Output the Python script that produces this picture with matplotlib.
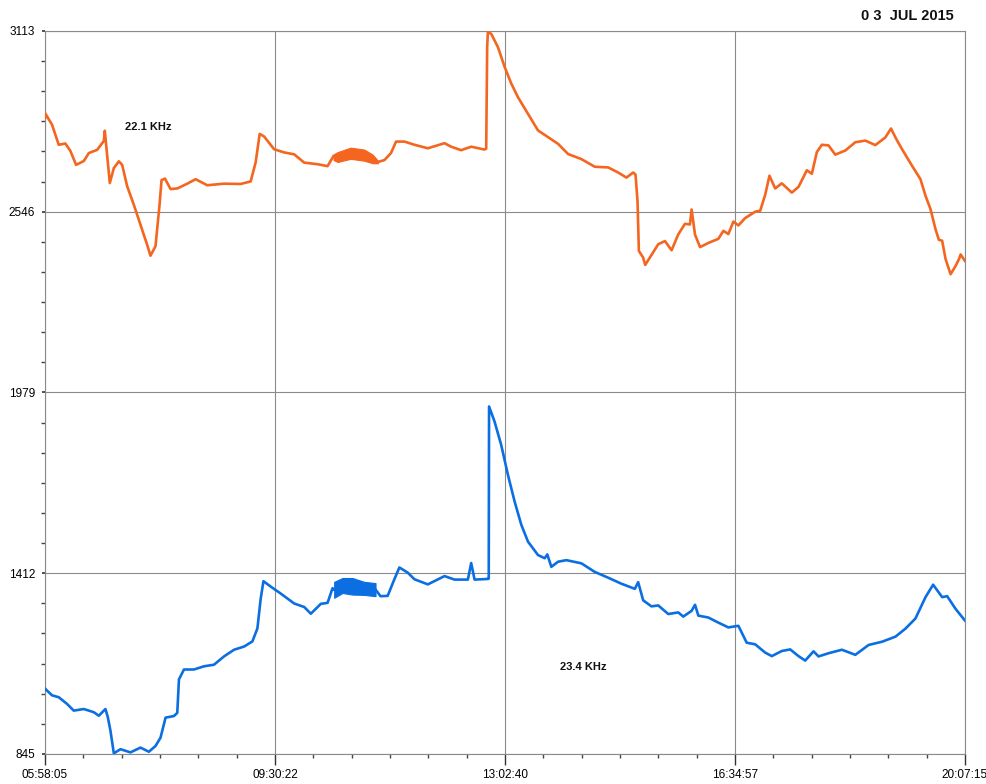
import matplotlib
matplotlib.use("Agg")
import matplotlib.pyplot as plt
from matplotlib.ticker import FixedLocator

# ---------------- data (clock time in decimal hours, recorder units) -------------
x_tick_pos = [5.9681, 9.5061, 13.0444, 16.5825, 20.1208]
x_tick_labels = ["05:58:05", "09:30:22", "13:02:40", "16:34:57", "20:07:15"]
y_ticks = [845, 1412, 1979, 2546, 3113]

orange_t = [5.968, 5.973, 6.076, 6.179, 6.281, 6.358, 6.446, 6.565, 6.642, 6.770,
            6.873, 6.888, 6.965, 7.027, 7.104, 7.155, 7.232, 7.336, 7.437, 7.540,
            7.591, 7.668, 7.730, 7.761, 7.813, 7.900, 8.003, 8.157, 8.285, 8.465,
            8.722, 8.978, 9.132, 9.209, 9.271, 9.339, 9.493, 9.648, 9.802, 9.956,
            10.161, 10.315, 10.408, 10.470, 10.670, 10.880, 11.010, 11.090, 11.190, 11.291,
            11.369, 11.498, 11.652, 11.858, 12.115, 12.216, 12.370, 12.525, 12.731, 12.756,
            12.771, 12.782, 12.833, 12.937, 13.040, 13.142, 13.245, 13.399, 13.553, 13.707,
            13.861, 14.016, 14.221, 14.427, 14.632, 14.786, 14.914, 15.017, 15.053, 15.084,
            15.105, 15.171, 15.202, 15.403, 15.506, 15.608, 15.711, 15.814, 15.891, 15.916,
            15.969, 16.046, 16.174, 16.328, 16.405, 16.482, 16.559, 16.636, 16.740, 16.894,
            16.971, 17.048, 17.114, 17.202, 17.304, 17.458, 17.561, 17.689, 17.766, 17.843,
            17.920, 18.023, 18.127, 18.281, 18.435, 18.589, 18.743, 18.897, 18.984, 19.052,
            19.154, 19.308, 19.437, 19.515, 19.592, 19.669, 19.720, 19.771, 19.824, 19.901,
            19.978, 20.029, 20.055, 20.120]
orange_v = [2840, 2854, 2819, 2756, 2760, 2737, 2693, 2705, 2730, 2740,
            2768, 2800, 2636, 2683, 2704, 2693, 2626, 2567, 2505, 2442,
            2408, 2438, 2567, 2645, 2650, 2617, 2619, 2634, 2648, 2629,
            2634, 2633, 2641, 2701, 2790, 2782, 2742, 2732, 2726, 2700,
            2695, 2689, 2721, 2719, 2731, 2726, 2712, 2702, 2708, 2730,
            2766, 2766, 2756, 2745, 2761, 2750, 2739, 2750, 2741, 2744,
            3063, 3110, 3104, 3062, 3000, 2948, 2905, 2853, 2801, 2780,
            2759, 2727, 2711, 2687, 2685, 2669, 2653, 2669, 2663, 2580,
            2423, 2402, 2379, 2444, 2454, 2425, 2475, 2508, 2506, 2553,
            2474, 2435, 2448, 2461, 2486, 2476, 2515, 2503, 2526, 2546,
            2549, 2599, 2659, 2619, 2635, 2606, 2624, 2676, 2665, 2733,
            2756, 2754, 2725, 2738, 2764, 2769, 2755, 2779, 2807, 2779,
            2742, 2690, 2648, 2596, 2554, 2491, 2458, 2455, 2397, 2350,
            2376, 2397, 2412, 2392]

# noisy band of the 22.1 kHz trace
orange_band_t = [10.408, 10.470, 10.670, 10.880, 11.010, 11.090]
orange_band_lo = [2708, 2702, 2712, 2706, 2698, 2698]
orange_band_hi = [2726, 2733, 2747, 2741, 2725, 2706]

blue_t = [5.968, 5.973, 6.076, 6.179, 6.307, 6.410, 6.565, 6.719, 6.796, 6.898,
          6.935, 6.975, 7.027, 7.129, 7.283, 7.437, 7.566, 7.668, 7.745, 7.823,
          7.952, 8.003, 8.029, 8.106, 8.260, 8.414, 8.568, 8.722, 8.877, 9.031,
          9.159, 9.236, 9.287, 9.329, 9.441, 9.596, 9.802, 9.956, 10.058, 10.212,
          10.315, 10.392, 10.417, 10.545, 10.699, 10.879, 11.053, 11.130, 11.240, 11.343,
          11.420, 11.548, 11.652, 11.858, 12.115, 12.269, 12.474, 12.525, 12.577, 12.782,
          12.795, 12.800, 12.884, 12.986, 13.091, 13.193, 13.296, 13.399, 13.553, 13.656,
          13.696, 13.758, 13.861, 13.989, 14.221, 14.427, 14.632, 14.837, 15.043, 15.094,
          15.171, 15.299, 15.403, 15.557, 15.711, 15.788, 15.916, 15.969, 16.020, 16.174,
          16.328, 16.482, 16.636, 16.764, 16.894, 17.048, 17.150, 17.304, 17.433, 17.561,
          17.664, 17.792, 17.869, 18.023, 18.229, 18.435, 18.640, 18.845, 19.052, 19.206,
          19.360, 19.515, 19.632, 19.771, 19.848, 19.978, 20.120]
blue_v = [1050, 1049, 1029, 1023, 1002, 981, 986, 976, 965, 986,
          960, 918, 847, 860, 850, 865, 852, 870, 896, 959,
          964, 974, 1079, 1110, 1110, 1120, 1125, 1151, 1172, 1182,
          1198, 1239, 1333, 1387, 1370, 1348, 1317, 1306, 1285, 1316,
          1319, 1365, 1360, 1375, 1372, 1365, 1361, 1340, 1341, 1393,
          1430, 1414, 1393, 1377, 1403, 1392, 1392, 1444, 1392, 1394,
          1395, 1935, 1888, 1815, 1720, 1637, 1564, 1511, 1469, 1459,
          1471, 1432, 1448, 1453, 1443, 1416, 1398, 1379, 1363, 1384,
          1327, 1308, 1311, 1284, 1289, 1276, 1294, 1313, 1279, 1273,
          1257, 1242, 1247, 1194, 1189, 1163, 1152, 1168, 1173, 1152,
          1138, 1167, 1151, 1161, 1172, 1156, 1187, 1197, 1213, 1238,
          1270, 1337, 1376, 1337, 1340, 1300, 1264]

# noisy band of the 23.4 kHz trace
blue_band_t = [10.417, 10.545, 10.699, 10.879, 11.053]
blue_band_lo = [1335, 1350, 1345, 1344, 1340]
blue_band_hi = [1385, 1397, 1397, 1385, 1381]

label_orange = "22.1 KHz"
label_blue = "23.4 KHz"
title_text = "0 3  JUL 2015"

# ---------------- styling ----------------
ORANGE = "#F4661F"
BLUE = "#0B6FE2"
GRID = "#8a8a8a"

plt.rcParams['font.family'] = ['Liberation Sans', 'DejaVu Sans']

fig = plt.figure(figsize=(9.87, 7.84), dpi=100)
ax = fig.add_axes([0.0456, 0.0383, 0.932, 0.9222])

ax.set_xlim(x_tick_pos[0], x_tick_pos[-1])
ax.set_ylim(y_ticks[0], y_ticks[-1])

ax.fill_between(orange_band_t, orange_band_lo, orange_band_hi, color=ORANGE,
                lw=0.8, zorder=3)
ax.plot(orange_t, orange_v, color=ORANGE, lw=1.9, zorder=3, solid_joinstyle='round')
ax.fill_between(blue_band_t, blue_band_lo, blue_band_hi, color=BLUE,
                lw=0.8, zorder=3)
ax.plot(blue_t, blue_v, color=BLUE, lw=1.9, zorder=3, solid_joinstyle='round')

# ticks
ax.xaxis.set_major_locator(FixedLocator(x_tick_pos))
ax.set_xticklabels(x_tick_labels)
step = (x_tick_pos[1] - x_tick_pos[0]) / 6
ax.xaxis.set_minor_locator(FixedLocator(
    [x_tick_pos[0] + i * step for i in range(1, 24) if i % 6 != 0]))
ax.yaxis.set_major_locator(FixedLocator(y_ticks))
ystep = (y_ticks[1] - y_ticks[0]) / 6
ax.yaxis.set_minor_locator(FixedLocator(
    [y_ticks[0] + i * ystep for i in range(1, 24) if i % 6 != 0]))

ax.tick_params(axis='x', which='major', length=8, width=1.0, color='#333333',
               labelsize=8.5, pad=3)
ax.tick_params(axis='x', which='minor', length=3, width=1.0, color='#444444')
ax.tick_params(axis='y', which='major', length=2, width=1.2, color='#333333',
               labelsize=8.5, pad=5)
ax.tick_params(axis='y', which='minor', length=3, width=1.0, color='#444444')

ax.grid(True, which='major', color=GRID, lw=0.8, zorder=1)
for s in ax.spines.values():
    s.set_color(GRID)
    s.set_linewidth(0.8)

ax.text(0.112, 0.867, label_orange, transform=ax.transAxes, fontsize=8,
        fontweight='bold', ha='center', va='center', color='#111111')
ax.text(0.585, 0.120, label_blue, transform=ax.transAxes, fontsize=8,
        fontweight='bold', ha='center', va='center', color='#111111')

fig.text(0.919, 0.980, title_text, fontsize=10.5, fontweight='bold',
         ha='center', va='center', color='#111111')

fig.savefig("out.png", dpi=100)
